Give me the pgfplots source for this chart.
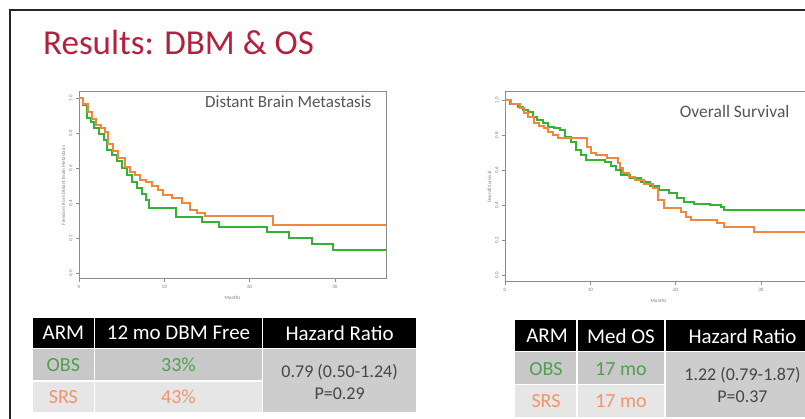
\documentclass[border=0pt]{standalone}
\usepackage{fontspec}
\setmainfont{Carlito}
\usepackage{pgfplots}
\pgfplotsset{compat=1.18}
\definecolor{titlecol}{RGB}{180,32,62}
\definecolor{obsg}{RGB}{50,180,50}
\definecolor{srso}{RGB}{240,135,60}
\definecolor{obstext}{RGB}{80,160,80}
\definecolor{srstext}{RGB}{238,150,110}
\definecolor{framec}{RGB}{140,140,140}
\definecolor{rowA}{RGB}{200,200,200}
\definecolor{rowB}{RGB}{230,230,230}
\definecolor{hrcell}{RGB}{205,205,205}
\definecolor{annot}{RGB}{85,85,85}
\definecolor{hrtext}{RGB}{70,70,70}
\pgfplotsset{kmstyle/.style={
  scale only axis, anchor=south west,
  width=307pt,
  xmin=0, xmax=36,
  axis line style={framec, line width=1pt},
  tick align=outside, tick pos=left,
  major tick length=3pt,
  tick style={framec, line width=0.6pt},
  xtick={0,10,20,30}, ytick={0,0.2,0.4,0.6,0.8,1.0},
  /pgf/number format/assume math mode=true,
  yticklabel style={rotate=90, anchor=south, font=\fontsize{5}{5}\selectfont, text=gray,
     /pgf/number format/.cd, fixed, fixed zerofill, precision=1, assume math mode=true},
  xticklabel style={font=\fontsize{5}{5}\selectfont, text=gray},
  xlabel style={font=\fontsize{5}{5}\selectfont, text=gray},
  ylabel style={font=\fontsize{5}{5}\selectfont, text=gray, yshift=-3pt},
  xlabel={Months},
  clip=true,
  every axis plot/.append style={line width=2pt, line join=miter},
}}
\begin{document}
\begin{tikzpicture}[x=1pt,y=1pt]
\useasboundingbox (0,0) rectangle (805,419);
\clip (0,0) rectangle (805,419);
\fill[white] (0,0) rectangle (805,419);
% slide border
\draw[black!85, line width=1.5pt] (10,-5) -- (10,409) -- (820,409);
% title
\node[anchor=base west, inner sep=0pt, text=titlecol, font=\fontsize{35}{35}\selectfont] at (43,364) {Results: DBM \& OS};

% left plot
\begin{axis}[kmstyle, at={(79pt,140pt)}, height=187pt, ymin=-0.031, ymax=1.036,
  ylabel={Freedom from Distant Brain Metastasis}]
\addplot[obsg, const plot] coordinates {
(0,1) (0.47,0.963) (0.94,0.889) (1.4,0.866) (1.76,0.831) (2.34,0.797) (2.93,0.763) (3.28,0.706) (3.87,0.677) (4.45,0.643) (5.04,0.603) (5.63,0.563) (6.2,0.523) (6.8,0.489) (7.39,0.454) (7.85,0.42) (8.2,0.374) (11.4,0.323) (14.4,0.294) (16.4,0.266) (22.1,0.237) (24.6,0.203) (27.3,0.169) (29.8,0.134) (36,0.134)};
\addplot[srso, const plot] coordinates {
(0,1) (0.5,0.97) (1.0,0.92) (1.5,0.88) (2.0,0.85) (2.6,0.83) (3.0,0.81) (3.4,0.74) (4.0,0.70) (4.6,0.66) (5.4,0.61) (6.0,0.58) (6.6,0.56) (7.2,0.535) (7.8,0.52) (8.6,0.50) (9.3,0.475) (9.9,0.45) (10.9,0.43) (12.1,0.40) (13.0,0.365) (13.8,0.345) (14.8,0.331) (22.8,0.276) (36,0.276)};
\node[anchor=east, text=annot, font=\fontsize{17}{17}\selectfont] at (rel axis cs:0.964,0.947) {Distant Brain Metastasis};
\end{axis}

% right plot
\begin{axis}[kmstyle, at={(505pt,137pt)}, height=190pt, ymin=-0.04, ymax=1.046,
  ylabel={Overall Survival}]
\addplot[obsg, const plot] coordinates {
(0,1) (0.6,0.98) (1.5,0.962) (2.1,0.945) (2.7,0.933) (3.3,0.905) (3.8,0.886) (4.4,0.866) (5.0,0.848) (5.7,0.838) (6.4,0.829) (7.0,0.79) (7.7,0.762) (8.3,0.714) (8.9,0.686) (9.5,0.657) (11.7,0.648) (12.4,0.625) (13.0,0.6) (13.6,0.571) (14.6,0.552) (15.9,0.533) (17.0,0.51) (18.1,0.486) (19.2,0.467) (20.2,0.438) (21.0,0.42) (22.2,0.406) (24.0,0.40) (25.3,0.39) (25.7,0.371) (36,0.371)};
\addplot[srso, const plot] coordinates {
(0,1) (0.7,0.975) (1.7,0.952) (2.2,0.925) (2.7,0.905) (3.4,0.867) (4.0,0.852) (4.6,0.838) (5.1,0.82) (5.6,0.80) (6.2,0.781) (9.6,0.733) (10.1,0.70) (10.7,0.686) (12.0,0.667) (13.2,0.638) (13.5,0.61) (13.8,0.581) (14.5,0.562) (15.2,0.543) (16.3,0.52) (17.3,0.495) (17.9,0.429) (18.7,0.381) (20.6,0.362) (21.2,0.33) (21.8,0.314) (24.9,0.295) (25.7,0.276) (29.2,0.248) (36,0.248)};
\node[anchor=east, text=annot, font=\fontsize{17.5}{17.5}\selectfont] at (rel axis cs:0.938,0.899) {Overall Survival};
\end{axis}

% left table
\fill[black] (33,71) rectangle (416,101);
\fill[white] (93.8,71) rectangle (95.2,101);
\fill[white] (261.8,71) rectangle (263.2,101);
\fill[rowA] (33,38.5) rectangle (93.8,69.5);
\fill[rowA] (95.2,38.5) rectangle (261.8,69.5);
\fill[rowB] (33,7) rectangle (93.8,37.1);
\fill[rowB] (95.2,7) rectangle (261.8,37.1);
\fill[hrcell] (263.2,7) rectangle (416,69.5);
\begin{scope}[every node/.style={inner sep=0pt, font=\fontsize{21}{21}\selectfont}]
\node[text=white] at (63.4,86) {ARM};
\node[text=white] at (178.5,86) {12 mo DBM Free};
\node[text=white] at (339.6,86) {Hazard Ratio};
\end{scope}
\begin{scope}[every node/.style={inner sep=0pt, font=\fontsize{20}{20}\selectfont}]
\node[text=obstext] at (63.4,54) {OBS};
\node[text=obstext] at (178.5,54) {33\%};
\node[text=srstext] at (63.4,22) {SRS};
\node[text=srstext] at (178.5,22) {43\%};
\end{scope}
\begin{scope}[every node/.style={inner sep=0pt, font=\fontsize{18}{18}\selectfont, text=hrtext}]
\node at (339.6,47) {0.79 (0.50-1.24)};
\node at (339.6,25) {P=0.29};
\end{scope}

% right table
\fill[black] (515,68) rectangle (825,99);
\fill[white] (576.2,68) rectangle (577.8,99);
\fill[white] (664.2,68) rectangle (665.8,99);
\fill[rowA] (515,35) rectangle (576.2,66.5);
\fill[rowA] (577.8,35) rectangle (664.2,66.5);
\fill[rowB] (515,2) rectangle (576.2,33.5);
\fill[rowB] (577.8,2) rectangle (664.2,33.5);
\fill[hrcell] (665.8,2) rectangle (825,66.5);
\begin{scope}[every node/.style={inner sep=0pt, font=\fontsize{21}{21}\selectfont}]
\node[text=white] at (547,83) {ARM};
\node[text=white] at (621,83) {Med OS};
\node[text=white] at (742.5,83) {Hazard Ratio};
\end{scope}
\begin{scope}[every node/.style={inner sep=0pt, font=\fontsize{20}{20}\selectfont}]
\node[text=obstext] at (546,50) {OBS};
\node[text=obstext] at (621,50) {17 mo};
\node[text=srstext] at (546,18) {SRS};
\node[text=srstext] at (621,18) {17 mo};
\end{scope}
\begin{scope}[every node/.style={inner sep=0pt, font=\fontsize{18}{18}\selectfont, text=hrtext}]
\node at (742.5,44) {1.22 (0.79-1.87)};
\node at (742.5,22) {P=0.37};
\end{scope}
\end{tikzpicture}
\end{document}
